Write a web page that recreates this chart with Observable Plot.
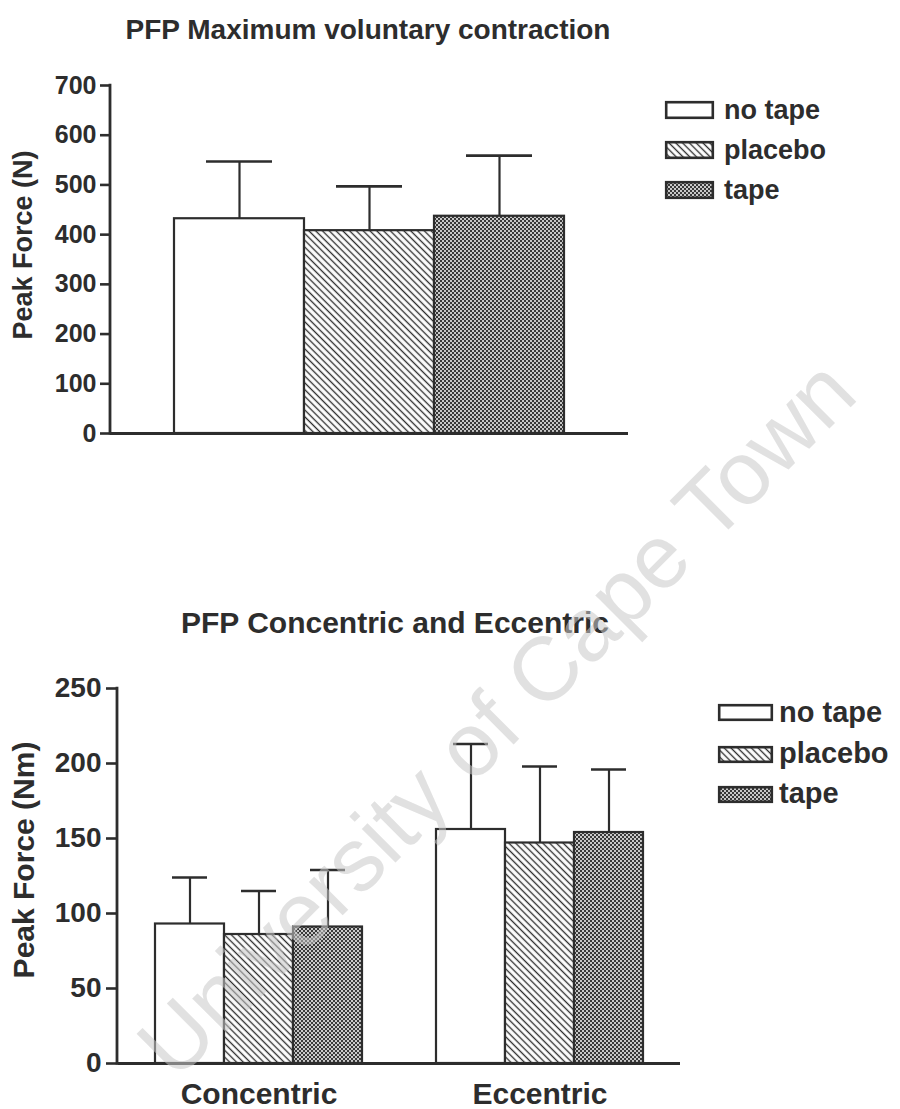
<!DOCTYPE html>
<html>
<head>
<meta charset="utf-8">
<script src="https://cdn.jsdelivr.net/npm/d3@7"></script>
<script src="https://cdn.jsdelivr.net/npm/@observablehq/plot@0.6"></script>
<style>
  html, body { margin: 0; padding: 0; background: #fff; }
  body { width: 900px; height: 1109px; position: relative; overflow: hidden; }
  .chart { position: absolute; left: 0; }
</style>
</head>
<body>
<div id="c1" class="chart" style="top:0px"></div>
<div id="c2" class="chart" style="top:640px"></div>
<script>
// ---------- data ----------
const conditions = ["no tape", "placebo", "tape"];
const mvcMean = [432, 408, 437];
const mvcSD = [115, 89, 122];
const exercises = ["Concentric", "Eccentric"];
const concMean = [93, 86, 91];
const concSD = [31, 29, 38];
const eccMean = [156, 147, 154];
const eccSD = [57, 51, 42];
const yTicks1 = [0, 100, 200, 300, 400, 500, 600, 700];
const yTicks2 = [0, 50, 100, 150, 200, 250];
const title1 = "PFP Maximum voluntary contraction";
const title2 = "PFP Concentric and Eccentric";
const yLabel1 = "Peak Force (N)";
const yLabel2 = "Peak Force (Nm)";
const watermark = "University of Cape Town";

const ink = "#2d2d2d";
const font = "'Liberation Sans', Arial, Helvetica, sans-serif";
const fills = {"no tape": "white", "placebo": "url(#hatch)", "tape": "url(#checker)"};

const mvcData = conditions.map((c, i) => ({condition: c, mean: mvcMean[i], sd: mvcSD[i]}));
const ceMeans = [concMean, eccMean], ceSDs = [concSD, eccSD];
const ceData = exercises.flatMap((e, i) => conditions.map((c, j) => ({exercise: e, condition: c, mean: ceMeans[i][j], sd: ceSDs[i][j]})));

// ---------- shared pattern defs ----------
const defsSvg = d3.select("body").append("svg")
  .attr("width", 0).attr("height", 0)
  .style("position", "absolute").style("left", 0).style("top", 0);
const defs = defsSvg.append("defs");
const hatch = defs.append("pattern").attr("id", "hatch")
  .attr("patternUnits", "userSpaceOnUse").attr("width", 4.8).attr("height", 4.8)
  .attr("patternTransform", "rotate(-45)");
hatch.append("rect").attr("width", 4.8).attr("height", 4.8).attr("fill", "white");
hatch.append("line").attr("x1", 2.4).attr("y1", -1).attr("x2", 2.4).attr("y2", 6)
  .attr("stroke", ink).attr("stroke-width", 1.35);
const checker = defs.append("pattern").attr("id", "checker")
  .attr("patternUnits", "userSpaceOnUse").attr("width", 4).attr("height", 4);
checker.append("rect").attr("width", 4).attr("height", 4).attr("fill", "#c8c8c8");
checker.append("rect").attr("x", 0).attr("y", 0).attr("width", 2).attr("height", 2).attr("fill", "#383838");
checker.append("rect").attr("x", 2).attr("y", 2).attr("width", 2).attr("height", 2).attr("fill", "#383838");

// ---------- chart 1 ----------
const chart1 = Plot.plot({
  width: 900, height: 470,
  marginTop: 85, marginBottom: 37, marginLeft: 110, marginRight: 272,
  style: {fontFamily: font, fontSize: "25px", fontWeight: "bold", color: ink, background: "transparent", overflow: "visible"},
  x: {domain: conditions, paddingInner: 0, paddingOuter: 0.49, axis: null},
  y: {domain: [0, 700], label: null},
  color: {type: "identity"},
  marks: [
    Plot.ruleX(mvcData, {x: "condition", y1: "mean", y2: d => d.mean + d.sd, stroke: ink, strokeWidth: 2.2}),
    Plot.barY(mvcData, {x: "condition", y: "mean", fill: d => fills[d.condition], stroke: ink, strokeWidth: 2.2}),
    Plot.tickY(mvcData, {x: "condition", y: d => d.mean + d.sd, stroke: ink, strokeWidth: 2.6, insetLeft: 32, insetRight: 32}),
    Plot.ruleY([0], {stroke: ink, strokeWidth: 2.8}),
    Plot.axisY({ticks: yTicks1, tickSize: 10, tickPadding: 4, strokeWidth: 2.6, label: null, tickFormat: d => String(d)})
  ]
});
document.getElementById("c1").appendChild(chart1);
{
  const ys = chart1.scale("y");
  d3.select(chart1).append("line")
    .attr("x1", 110).attr("x2", 110)
    .attr("y1", ys.apply(yTicks1[0]) + 1.4).attr("y2", ys.apply(yTicks1[yTicks1.length - 1]) - 1.3)
    .attr("stroke", ink).attr("stroke-width", 2.8);
}

// ---------- chart 2 ----------
const chart2 = Plot.plot({
  width: 900, height: 469,
  marginTop: 48, marginBottom: 46, marginLeft: 117, marginRight: 220,
  style: {fontFamily: font, fontSize: "28px", fontWeight: "bold", color: ink, background: "transparent", overflow: "visible"},
  fx: {domain: exercises, padding: 0, label: null},
  x: {domain: conditions, paddingInner: 0, paddingOuter: 0.51, axis: null},
  y: {domain: [0, 250], label: null},
  color: {type: "identity"},
  marks: [
    Plot.ruleX(ceData, {fx: "exercise", x: "condition", y1: "mean", y2: d => d.mean + d.sd, stroke: ink, strokeWidth: 2.2}),
    Plot.barY(ceData, {fx: "exercise", x: "condition", y: "mean", fill: d => fills[d.condition], stroke: ink, strokeWidth: 2.2}),
    Plot.tickY(ceData, {fx: "exercise", x: "condition", y: d => d.mean + d.sd, stroke: ink, strokeWidth: 2.6, insetLeft: 17, insetRight: 17}),
    Plot.ruleY([0], {stroke: ink, strokeWidth: 2.8}),
    Plot.axisFx({anchor: "bottom", tickSize: 0, tickPadding: 19, fontSize: 30, label: null}),
    Plot.axisY({ticks: yTicks2, tickSize: 12, tickPadding: 5, strokeWidth: 2.6, label: null, tickFormat: d => String(d)})
  ]
});
document.getElementById("c2").appendChild(chart2);
{
  const ys = chart2.scale("y");
  d3.select(chart2).append("line")
    .attr("x1", 117).attr("x2", 117)
    .attr("y1", ys.apply(yTicks2[0]) + 1.4).attr("y2", ys.apply(yTicks2[yTicks2.length - 1]) - 1.3)
    .attr("stroke", ink).attr("stroke-width", 2.8);
}

// ---------- titles, labels, legends, watermark ----------
const ov = d3.select("body").append("svg")
  .attr("width", 900).attr("height", 1109)
  .style("position", "absolute").style("left", 0).style("top", 0)
  .style("pointer-events", "none")
  .attr("font-family", font).attr("font-weight", "bold").attr("fill", ink);

ov.append("text").attr("x", 368).attr("y", 39).attr("text-anchor", "middle").attr("font-size", 28).text(title1);
ov.append("text").attr("x", 395).attr("y", 633).attr("text-anchor", "middle").attr("font-size", 30).text(title2);

ov.append("text").attr("transform", "translate(32,245) rotate(-90)").attr("text-anchor", "middle").attr("font-size", 27).text(yLabel1);
ov.append("text").attr("transform", "translate(34,860) rotate(-90)").attr("text-anchor", "middle").attr("font-size", 30).text(yLabel2);

function legend(x, tops, w, h, textX, baselines, size) {
  conditions.forEach((c, i) => {
    ov.append("rect").attr("x", x + 1.2).attr("y", tops[i] + 1.2).attr("width", w - 2.4).attr("height", h - 2.4)
      .attr("fill", fills[c]).attr("stroke", ink).attr("stroke-width", 2.6);
    ov.append("text").attr("x", textX).attr("y", baselines[i]).attr("font-size", size).text(c);
  });
}
legend(665, [101, 141, 181], 49, 18, 724, [119, 159, 199], 27);
legend(718, [704, 746, 786], 55, 17, 779, [722, 763, 803], 29);

ov.append("text")
  .attr("transform", "translate(518,740) rotate(-45)")
  .attr("text-anchor", "middle").attr("font-size", 90).attr("font-weight", "normal")
  .attr("fill", "#c8c8c8").attr("fill-opacity", 0.55)
  .text(watermark);
</script>
</body>
</html>
